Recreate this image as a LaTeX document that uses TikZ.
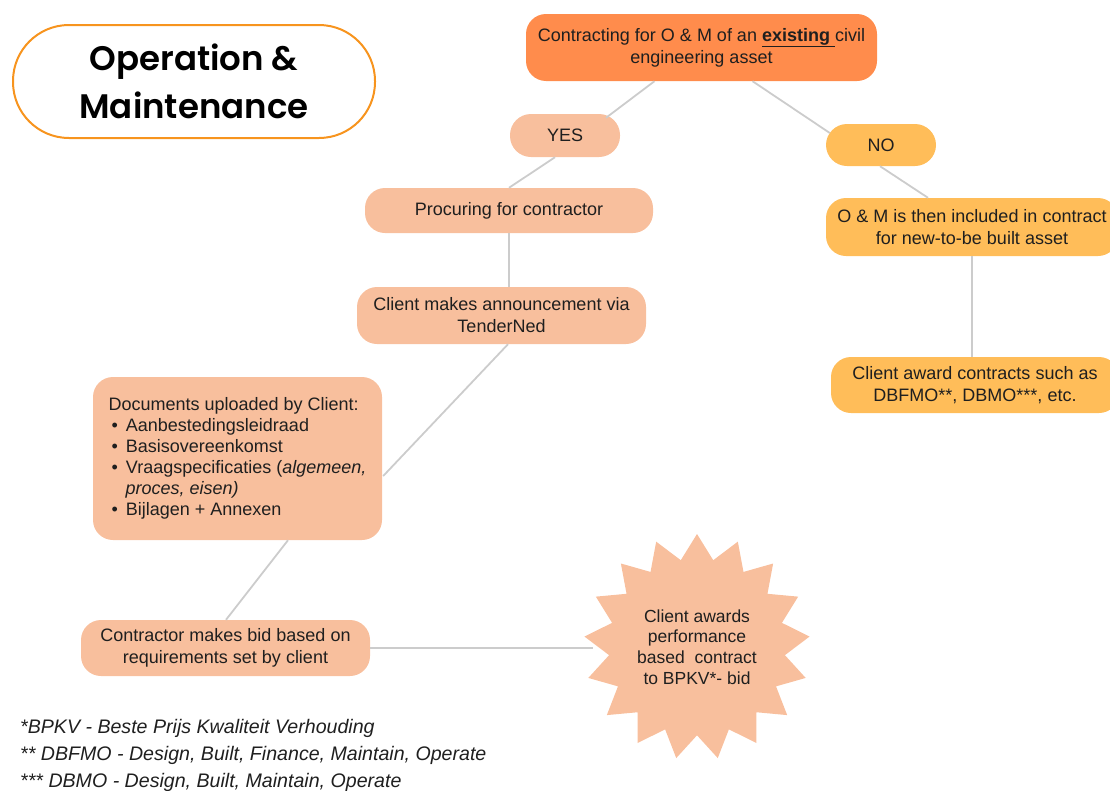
\documentclass[tikz,border=0pt]{standalone}
\usepackage{fontspec}
\setmainfont{Liberation Sans}
\newfontfamily\titlefont{Poppins}[BoldFont={* SemiBold}]
\usetikzlibrary{shapes.geometric,calc}

\definecolor{topfill}{RGB}{255,140,76}
\definecolor{salmon}{RGB}{248,191,157}
\definecolor{amber}{RGB}{255,189,89}
\definecolor{titleline}{RGB}{247,148,30}
\definecolor{linkgray}{RGB}{204,204,204}
\definecolor{ink}{RGB}{31,31,31}

\tikzset{
  base/.style={inner sep=0pt, align=center, text=ink,
    font=\fontsize{18}{22}\selectfont},
  boxshape/.style={base, rectangle, rounded corners=20pt},
  salmonbox/.style={boxshape, fill=salmon},
  amberbox/.style={boxshape, fill=amber},
  topbox/.style={boxshape, fill=topfill},
  pill/.style={base, rectangle, rounded corners=21pt},
  link/.style={draw=linkgray, line width=1.8pt},
  note/.style={anchor=base west, inner sep=0pt, text=ink,
    font=\fontsize{19.6}{22}\selectfont\itshape},
}

\begin{document}
\begin{tikzpicture}[x=1pt,y=-1pt]
\useasboundingbox (0,0) rectangle (1110,790);

% title pill
\node[base, draw=titleline, line width=2pt, rounded corners=56pt,
      minimum width=362, minimum height=113,
      font=\titlefont\bfseries\fontsize{34}{48}\selectfont, text=black]
  (title) at (194,81.5) {Operation \&\\Maintenance};

% top question
\node[topbox, minimum width=351, minimum height=67] (top) at (701.5,47.5)
  {Contracting for O \& M of an \underline{\textbf{existing}\ }civil\\engineering asset};

% answers
\node[pill, fill=salmon, minimum width=110, minimum height=43] (yes) at (565,135.5) {YES};
\node[pill, fill=amber, minimum width=110, minimum height=42] (no) at (881,145) {NO};

% YES branch
\node[salmonbox, minimum width=288, minimum height=45] (proc) at (509,210.5)
  {Procuring for contractor};
\node[salmonbox, minimum width=289, minimum height=57] (ann) at (501.5,315.5)
  {Client makes announcement via\\TenderNed};
\node[salmonbox, minimum width=289, minimum height=163, align=left,
      font=\fontsize{18}{21}\selectfont] (docs) at (237.5,458.5)
  {Documents uploaded by Client:\\
   \hspace*{3pt}\textbullet\hspace{8pt}Aanbestedingsleidraad\\
   \hspace*{3pt}\textbullet\hspace{8pt}Basisovereenkomst\\
   \hspace*{3pt}\textbullet\hspace{8pt}Vraagspecificaties (\textit{algemeen,}\\
   \hspace*{17pt}\textit{proces, eisen)}\\
   \hspace*{3pt}\textbullet\hspace{8pt}Bijlagen + Annexen};
\node[salmonbox, minimum width=289, minimum height=56] (bid) at (225.5,648)
  {Contractor makes bid based on\\requirements set by client};
\node[base, star, star points=17, star point ratio=1.28, minimum size=226,
      fill=salmon, font=\fontsize{17.5}{20.7}\selectfont] (award) at (697,647)
  {Client awards\\performance\\based\ \ contract\\to BPKV*- bid};

% NO branch
\node[amberbox, minimum width=292, minimum height=58] (omb) at (972,227)
  {O \& M is then included in contract\\for new-to-be built asset};
\node[amberbox, minimum width=288, minimum height=56] (clnt) at (975,385)
  {Client award contracts such as\\DBFMO**, DBMO***, etc.};

% connectors
\draw[link] ($(top.south)+(-47,0)$) -- ($(yes.north)+(41,4)$);
\draw[link] ($(top.south)+(51,0)$) -- ($(no.west)+(4,-12)$);
\draw[link] ($(yes.south)+(-10,0)$) -- (proc.north);
\draw[link] (proc.south) -- ($(ann.north)+(7.5,0)$);
\draw[link] ($(ann.south)+(6.5,0)$) -- ($(docs.east)+(1,17.5)$);
\draw[link] ($(docs.south)+(50.5,0)$) -- ($(bid.north)+(0.5,0)$);
\draw[link] (bid.east) -- ($(award.center)+(-104,1)$);
\draw[link] ($(no.south)+(-1,0)$) -- ($(omb.north)+(-44,0)$);
\draw[link] (omb.south) -- ($(clnt.north)+(-3,0)$);

% footnotes
\node[note] (n1) at (20,733) {*BPKV - Beste Prijs Kwaliteit Verhouding};
\node[note] (n2) at (20,760) {** DBFMO - Design, Built, Finance, Maintain, Operate};
\node[note] (n3) at (20,787) {*** DBMO - Design, Built, Maintain, Operate};
\end{tikzpicture}
\end{document}
